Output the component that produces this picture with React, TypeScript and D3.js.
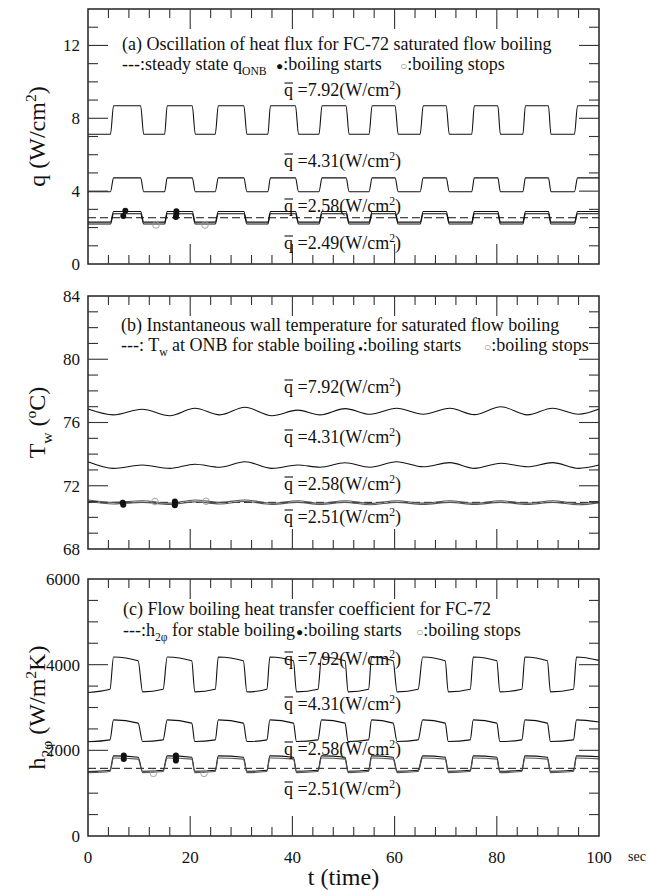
import { useEffect, useRef } from "react";
import * as d3 from "d3";

const W = 649;
const H = 890;
const FONT = "'Liberation Serif', 'Times New Roman', serif";

// shared time axis (sec)
const xMajor = [0, 20, 40, 60, 80, 100];

// ---- (a) heat flux, q (W/cm2) ----
// switching instants: t=0, then per cycle rise start, rise end, fall start, fall end
const tA = [
  0,
  4.4, 5.0, 10.3, 10.9,
  15.0, 15.5, 20.4, 21.0,
  24.9, 25.5, 30.5, 31.1,
  35.2, 35.7, 40.6, 41.2,
  45.2, 45.8, 50.5, 51.1,
  55.0, 55.6, 60.1, 60.7,
  65.0, 65.6, 70.1, 70.7,
  75.1, 75.6, 80.2, 80.7,
  85.1, 85.6, 90.1, 90.6,
  95.2, 95.8, 100,
];
const qA792 = [
  7.12,
  7.12, 8.69, 8.69, 7.12,
  7.12, 8.69, 8.69, 7.12,
  7.12, 8.69, 8.69, 7.12,
  7.12, 8.69, 8.69, 7.12,
  7.12, 8.69, 8.69, 7.12,
  7.12, 8.69, 8.69, 7.12,
  7.12, 8.69, 8.69, 7.12,
  7.12, 8.69, 8.69, 7.12,
  7.12, 8.69, 8.69, 7.12,
  7.12, 8.69, 8.69,
];
const qA431 = [
  3.97,
  3.97, 4.73, 4.73, 3.97,
  3.97, 4.73, 4.73, 3.97,
  3.97, 4.73, 4.73, 3.97,
  3.97, 4.73, 4.73, 3.97,
  3.97, 4.73, 4.73, 3.97,
  3.97, 4.73, 4.73, 3.97,
  3.97, 4.73, 4.73, 3.97,
  3.97, 4.73, 4.73, 3.97,
  3.97, 4.73, 4.73, 3.97,
  3.97, 4.73, 4.73,
];
const qA258 = [
  2.30,
  2.30, 2.88, 2.88, 2.30,
  2.30, 2.88, 2.88, 2.30,
  2.30, 2.88, 2.88, 2.30,
  2.30, 2.88, 2.88, 2.30,
  2.30, 2.88, 2.88, 2.30,
  2.30, 2.88, 2.88, 2.30,
  2.30, 2.88, 2.88, 2.30,
  2.30, 2.88, 2.88, 2.30,
  2.30, 2.88, 2.88, 2.30,
  2.30, 2.88, 2.88,
];
const qA249 = [
  2.20,
  2.20, 2.76, 2.76, 2.20,
  2.20, 2.76, 2.76, 2.20,
  2.20, 2.76, 2.76, 2.20,
  2.20, 2.76, 2.76, 2.20,
  2.20, 2.76, 2.76, 2.20,
  2.20, 2.76, 2.76, 2.20,
  2.20, 2.76, 2.76, 2.20,
  2.20, 2.76, 2.76, 2.20,
  2.20, 2.76, 2.76, 2.20,
  2.20, 2.76, 2.76,
];
const qOnb = 2.54;
const startsA = [[6.9, 2.64], [7.3, 2.92], [17.2, 2.58], [17.3, 2.75], [17.3, 2.9]];
const stopsA = [[13.3, 2.14], [22.9, 2.14]];
const labelsA = ["7.92", "4.31", "2.58", "2.49"];

// ---- (b) wall temperature, Tw (C) ----
const tB = [0, 5.0, 10.6, 16.0, 20.9, 25.8, 30.7, 36.0, 41.0, 45.4, 50.3, 55.2, 60.4, 65.6, 70.8, 75.6, 80.8, 86.0, 90.9, 96.0, 100];
const TB792 = [76.85, 76.48, 76.84, 76.43, 76.9, 76.48, 76.96, 76.43, 76.78, 76.48, 76.88, 76.52, 76.9, 76.52, 76.9, 76.5, 77.0, 76.48, 76.9, 76.52, 76.85];
const TB431 = [73.52, 73.1, 73.31, 73.1, 73.36, 73.17, 73.52, 73.1, 73.31, 73.17, 73.45, 73.17, 73.52, 73.2, 73.46, 73.1, 73.42, 73.2, 73.46, 73.1, 73.31];
const TB258 = [71.1, 70.95, 71.05, 70.9, 71.1, 70.95, 71.1, 70.9, 71.05, 70.9, 71.05, 70.88, 71.05, 70.9, 71.05, 70.9, 71.05, 70.9, 71.05, 70.88, 71.0];
const TB251 = [71.0, 70.85, 70.95, 70.82, 70.98, 70.85, 71.0, 70.82, 70.95, 70.82, 70.95, 70.8, 70.95, 70.82, 70.95, 70.82, 70.95, 70.82, 70.95, 70.8, 70.92];
const TOnb = 70.95;
const startsB = [[6.8, 70.92], [6.9, 70.8], [17.0, 71.0], [17.0, 70.88], [17.0, 70.76]];
const stopsB = [[13.1, 71.0], [23.1, 71.02]];
const labelsB = ["7.92", "4.31", "2.58", "2.51"];

// ---- (c) heat transfer coefficient, h2phi (W/m2K) ----
const tC = [
  0,
  4.3, 5.0, 9.8, 10.7,
  14.7, 15.5, 20.3, 20.9,
  24.9, 25.5, 30.4, 31.1,
  35.0, 35.6, 40.2, 40.8,
  45.0, 45.7, 50.3, 50.9,
  54.9, 55.5, 59.7, 60.5,
  64.6, 65.5, 69.9, 70.5,
  74.8, 75.4, 80.0, 80.6,
  84.9, 85.5, 89.9, 90.5,
  95.0, 95.6, 100,
];
const hC792 = [
  3350,
  3425, 4180, 4090, 3365,
  3425, 4180, 4090, 3365,
  3425, 4180, 4090, 3365,
  3425, 4180, 4090, 3365,
  3425, 4180, 4090, 3365,
  3425, 4180, 4090, 3365,
  3425, 4180, 4090, 3365,
  3425, 4180, 4090, 3365,
  3425, 4180, 4090, 3365,
  3425, 4180, 4100,
];
const hC431 = [
  2200,
  2245, 2710, 2635, 2205,
  2245, 2710, 2635, 2205,
  2245, 2710, 2635, 2205,
  2245, 2710, 2635, 2205,
  2245, 2710, 2635, 2205,
  2245, 2710, 2635, 2205,
  2245, 2710, 2635, 2205,
  2245, 2710, 2635, 2205,
  2245, 2710, 2635, 2205,
  2245, 2710, 2660,
];
const hC258 = [
  1505,
  1535, 1870, 1840, 1510,
  1535, 1870, 1840, 1510,
  1535, 1870, 1840, 1510,
  1535, 1870, 1840, 1510,
  1535, 1870, 1840, 1510,
  1535, 1870, 1840, 1510,
  1535, 1870, 1840, 1510,
  1535, 1870, 1840, 1510,
  1535, 1870, 1840, 1510,
  1535, 1870, 1850,
];
const hC251 = [
  1475,
  1505, 1820, 1795, 1480,
  1505, 1820, 1795, 1480,
  1505, 1820, 1795, 1480,
  1505, 1820, 1795, 1480,
  1505, 1820, 1795, 1480,
  1505, 1820, 1795, 1480,
  1505, 1820, 1795, 1480,
  1505, 1820, 1795, 1480,
  1505, 1820, 1795, 1480,
  1505, 1820, 1800,
];
const hOnb = 1580;
const startsC = [[7.0, 1880], [7.0, 1800], [17.2, 1880], [17.2, 1815], [17.2, 1760]];
const stopsC = [[12.8, 1463], [22.7, 1463]];
const labelsC = ["7.92", "4.31", "2.58", "2.51"];

type Part = { t: string; s?: "sub" | "sup"; size?: number; fill?: string };

// writes mixed normal / sub / superscript text into a <text>
function rich(sel: any, parts: Part[], fs: number) {
  let shift = 0;
  parts.forEach((p) => {
    const target = p.s === "sub" ? fs * 0.28 : p.s === "sup" ? -fs * 0.38 : 0;
    sel
      .append("tspan")
      .attr("dy", target - shift)
      .attr("font-size", p.s ? fs * 0.65 : p.size ?? fs)
      .attr("fill", p.fill ?? "#111")
      .text(p.t);
    shift = target;
  });
}

export default function App() {
  const ref = useRef<SVGSVGElement>(null);

  useEffect(() => {
    const svg = d3.select(ref.current);
    svg.selectAll("*").remove();
    svg.append("rect").attr("width", W).attr("height", H).attr("fill", "#fff");

    const x = d3.scaleLinear().domain([0, 100]).range([88, 599]);

    const panels = [
      {
        y: d3.scaleLinear().domain([0, 14]).range([264, 9]),
        major: [0, 4, 8, 12], minorStep: 1, majorStep: 4,
        t: tA, series: [qA792, qA431, qA258, qA249], grey: [false, false, false, false],
        onb: qOnb, starts: startsA, stops: stopsA, labels: labelsA,
        labelY: [96, 167, 212, 249],
        title: "(a) Oscillation of heat flux for FC-72 saturated flow boiling",
        titleX: 122, titleY: 50,
        legend: [
          { x: 122, parts: [{ t: "---:steady state q" }, { t: "ONB", s: "sub" }] as Part[] },
          { x: 276, parts: [{ t: "\u25CF", size: 12 }, { t: ":boiling starts" }] as Part[] },
          { x: 400, parts: [{ t: "\u25CB", size: 12, fill: "#888" }, { t: ":boiling stops" }] as Part[] },
        ],
        legendY: 70,
        yTitle: [{ t: "q (W/cm" }, { t: "2", s: "sup" }, { t: ")" }] as Part[],
      },
      {
        y: d3.scaleLinear().domain([68, 84]).range([549, 296]),
        major: [68, 72, 76, 80, 84], minorStep: 1, majorStep: 4,
        t: tB, series: [TB792, TB431, TB258, TB251], grey: [false, false, true, true],
        onb: TOnb, starts: startsB, stops: stopsB, labels: labelsB,
        labelY: [393, 443, 490, 523],
        title: "(b) Instantaneous wall temperature for saturated flow boiling",
        titleX: 121, titleY: 331,
        legend: [
          { x: 121, parts: [{ t: "---: T" }, { t: "w", s: "sub" }, { t: " at ONB for stable boiling" }] as Part[] },
          { x: 358, parts: [{ t: "\u25CF", size: 8 }, { t: ":boiling starts" }] as Part[] },
          { x: 484, parts: [{ t: "\u25CB", size: 12, fill: "#888" }, { t: ":boiling stops" }] as Part[] },
        ],
        legendY: 351,
        yTitle: [{ t: "T" }, { t: "w", s: "sub" }, { t: " (" }, { t: "o", s: "sup" }, { t: "C)" }] as Part[],
      },
      {
        y: d3.scaleLinear().domain([0, 6000]).range([836, 579]),
        major: [0, 2000, 4000, 6000], minorStep: 500, majorStep: 2000,
        t: tC, series: [hC792, hC431, hC258, hC251], grey: [false, false, false, true],
        onb: hOnb, starts: startsC, stops: stopsC, labels: labelsC,
        labelY: [665, 710, 755, 795],
        title: "(c) Flow boiling heat transfer coefficient for FC-72",
        titleX: 123, titleY: 615,
        legend: [
          { x: 123, parts: [{ t: "---:h" }, { t: "2\u03C6", s: "sub" }, { t: " for stable boiling" }] as Part[] },
          { x: 296, parts: [{ t: "\u25CF", size: 12 }, { t: ":boiling starts" }] as Part[] },
          { x: 416, parts: [{ t: "\u25CB", size: 12, fill: "#888" }, { t: ":boiling stops" }] as Part[] },
        ],
        legendY: 636,
        yTitle: [{ t: "h" }, { t: "2\u03C6", s: "sub" }, { t: " (W/m" }, { t: "2", s: "sup" }, { t: "K)" }] as Part[],
      },
    ];

    const fs = 18;

    panels.forEach((p) => {
      const [yb, yt] = p.y.range();
      const [d0, d1] = p.y.domain();
      const g = svg.append("g").attr("font-family", FONT);

      // dashed onset line
      g.append("line")
        .attr("x1", x(0)).attr("x2", x(100))
        .attr("y1", p.y(p.onb)).attr("y2", p.y(p.onb))
        .attr("stroke", "#111").attr("stroke-width", 1)
        .attr("stroke-dasharray", "8,4");

      // curves
      p.series.forEach((vals, k) => {
        const line = d3
          .line<number>()
          .x((_, i) => x(p.t[i]))
          .y((v) => p.y(v))
          .curve(d3.curveMonotoneX);
        g.append("path")
          .attr("d", line(vals))
          .attr("fill", "none")
          .attr("stroke", p.grey[k] ? "#555" : "#111")
          .attr("stroke-width", 1.1);
      });

      // boiling markers
      g.selectAll(".start")
        .data(p.starts)
        .enter()
        .append("circle")
        .attr("cx", (d) => x(d[0]))
        .attr("cy", (d) => p.y(d[1]))
        .attr("r", 3)
        .attr("fill", "#111");
      g.selectAll(".stop")
        .data(p.stops)
        .enter()
        .append("circle")
        .attr("cx", (d) => x(d[0]))
        .attr("cy", (d) => p.y(d[1]))
        .attr("r", 3.3)
        .attr("fill", "none")
        .attr("stroke", "#999")
        .attr("stroke-width", 0.9);

      // frame
      g.append("rect")
        .attr("x", x(0)).attr("y", yt)
        .attr("width", x(100) - x(0)).attr("height", yb - yt)
        .attr("fill", "none").attr("stroke", "#222").attr("stroke-width", 1.5);

      // x ticks, top and bottom, pointing in
      d3.range(4, 100, 4).forEach((v) => {
        const len = v % 20 === 0 ? 20 : 9;
        g.append("line").attr("x1", x(v)).attr("x2", x(v)).attr("y1", yb).attr("y2", yb - len)
          .attr("stroke", "#333").attr("stroke-width", 1.1);
        g.append("line").attr("x1", x(v)).attr("x2", x(v)).attr("y1", yt).attr("y2", yt + len)
          .attr("stroke", "#333").attr("stroke-width", 1.1);
      });

      // y ticks, left and right
      d3.range(d0 + p.minorStep, d1, p.minorStep).forEach((v) => {
        const isMajor = Math.abs((v - d0) % p.majorStep) < 1e-6;
        const len = isMajor ? 20 : 10;
        g.append("line").attr("x1", x(0)).attr("x2", x(0) + len).attr("y1", p.y(v)).attr("y2", p.y(v))
          .attr("stroke", "#333").attr("stroke-width", 1.1);
        g.append("line").attr("x1", x(100)).attr("x2", x(100) - len).attr("y1", p.y(v)).attr("y2", p.y(v))
          .attr("stroke", "#333").attr("stroke-width", 1.1);
      });

      // y tick labels
      p.major.forEach((v) => {
        g.append("text")
          .attr("x", 80).attr("y", p.y(v)).attr("dy", "0.35em")
          .attr("text-anchor", "end").attr("font-size", 17).attr("fill", "#111")
          .text(String(v));
      });

      // y axis title
      const yTitle = g.append("text")
        .attr("transform", `translate(45,${(yb + yt) / 2}) rotate(-90)`)
        .attr("text-anchor", "middle").attr("font-size", 24);
      rich(yTitle, p.yTitle, 24);

      // panel title + legend line
      g.append("text").attr("x", p.titleX).attr("y", p.titleY)
        .attr("font-size", fs).attr("fill", "#111").text(p.title);
      p.legend.forEach((l) => {
        const tx = g.append("text").attr("x", l.x).attr("y", p.legendY).attr("font-size", fs);
        rich(tx, l.parts, fs);
      });

      // mean heat flux labels
      p.labels.forEach((lab, i) => {
        const lx = 284;
        const ly = p.labelY[i];
        g.append("line").attr("x1", lx + 0.5).attr("x2", lx + 9).attr("y1", ly - 13).attr("y2", ly - 13)
          .attr("stroke", "#111").attr("stroke-width", 1.1);
        const tx = g.append("text").attr("x", lx).attr("y", ly).attr("font-size", fs);
        rich(tx, [{ t: "q =" + lab + "(W/cm" }, { t: "2", s: "sup" }, { t: ")" }], fs);
      });
    });

    // x axis labels (bottom panel only)
    const gx = svg.append("g").attr("font-family", FONT).attr("fill", "#111");
    xMajor.forEach((v) => {
      gx.append("text").attr("x", x(v)).attr("y", 863)
        .attr("text-anchor", "middle").attr("font-size", 17).text(String(v));
    });
    gx.append("text").attr("x", 628).attr("y", 861).attr("font-size", 14).text("sec");
    gx.append("text").attr("x", (x(0) + x(100)) / 2).attr("y", 885)
      .attr("text-anchor", "middle").attr("font-size", 24).text("t (time)");
  }, []);

  return (
    <svg
      ref={ref}
      width={W}
      height={H}
      style={{ position: "absolute", left: 0, top: 0 }}
    />
  );
}
